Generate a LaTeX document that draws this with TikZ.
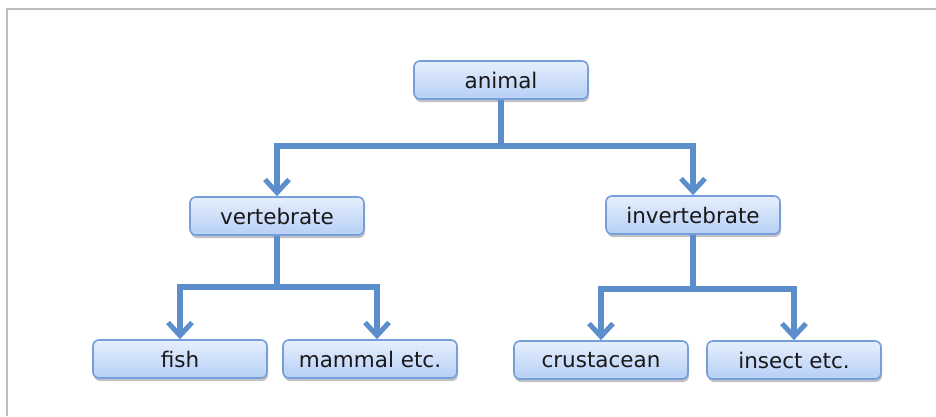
\documentclass[tikz,border=0pt]{standalone}
\usepackage{fontspec}
\setmainfont{DejaVu Sans}
\usetikzlibrary{arrows.meta,shadows}
\definecolor{linkblue}{RGB}{92,142,204}
\definecolor{boxedge}{RGB}{118,158,218}
\definecolor{boxtop}{RGB}{230,239,253}
\definecolor{boxbot}{RGB}{182,207,246}
\definecolor{framegray}{RGB}{190,190,190}
\tikzset{
  taxon/.style={draw=boxedge, line width=1.6pt, rounded corners=6pt,
    top color=boxtop, bottom color=boxbot,
    minimum width=174pt, minimum height=38pt, inner sep=0pt,
    text=black!90, font=\fontsize{21.5}{25}\selectfont,
    drop shadow={opacity=0.4, fill=black!60, shadow xshift=1pt, shadow yshift=-3pt}},
  trunk/.style={draw=linkblue, line width=5.5pt},
  branch/.style={trunk, -{Straight Barb[length=13pt, width=24pt, line width=5pt]}}
}
\begin{document}
\begin{tikzpicture}[x=1pt, y=-1pt]
\useasboundingbox (0,0) rectangle (936,416);
% frame edges
\draw[framegray, line width=2.5pt] (7,416) -- (7,9) -- (936,9);

% taxonomy boxes
\node[taxon] (animal) at (501,80) {animal};
\node[taxon] (vert) at (277,216) {vertebrate};
\node[taxon] (invert) at (693,215) {invertebrate};
\node[taxon] (fish) at (180,359) {fish};
\node[taxon] (mammal) at (370,359) {mammal etc.};
\node[taxon] (crust) at (601,360) {crustacean};
\node[taxon] (insect) at (794,360) {insect etc.};

% animal -> vertebrate / invertebrate
\draw[trunk] (animal.south) -- (animal.south |- 0,146) coordinate (jA);
\draw[branch] (jA) -| (vert.north);
\draw[branch] (jA) -| (invert.north);

% vertebrate -> fish / mammal
\draw[trunk] (vert.south) -- (vert.south |- 0,287) coordinate (jV);
\draw[branch] (jV) -| (fish.north);
\draw[branch] (jV) -| ([xshift=7pt]mammal.north);

% invertebrate -> crustacean / insect
\draw[trunk] (invert.south) -- (invert.south |- 0,289) coordinate (jI);
\draw[branch] (jI) -| (crust.north);
\draw[branch] (jI) -| (insect.north);
\end{tikzpicture}
\end{document}
